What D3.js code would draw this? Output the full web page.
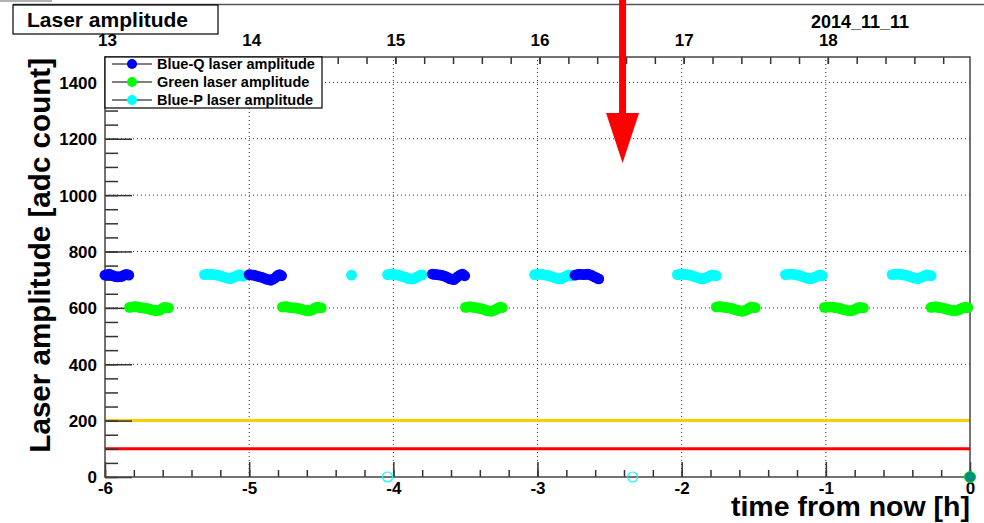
<!DOCTYPE html>
<html>
<head>
<meta charset="utf-8">
<script src="https://cdn.jsdelivr.net/npm/d3@7"></script>
<style>
  body { margin: 0; background: #fff; }
  text { font-family: "Liberation Sans", Arial, sans-serif; font-weight: bold; }
</style>
</head>
<body>
<script>
// time in hours from now, amplitude in adc counts
const blueQ = [
    [-6.00, 716], [-5.985, 718], [-5.97, 720], [-5.955, 716], [-5.94, 713], [-5.925, 711], [-5.91, 710], [-5.895, 711], [-5.88, 712], [-5.865, 717], [-5.85, 719], [-5.835, 716],
    [-5.00, 718], [-4.985, 717], [-4.97, 716], [-4.955, 714], [-4.94, 712], [-4.925, 710], [-4.91, 708], [-4.895, 705], [-4.88, 702], [-4.865, 700], [-4.85, 698], [-4.835, 702], [-4.82, 706], [-4.805, 714], [-4.79, 718], [-4.775, 714],
    [-3.73, 720], [-3.715, 719], [-3.70, 718], [-3.685, 717], [-3.67, 716], [-3.655, 714], [-3.64, 712], [-3.625, 708], [-3.61, 704], [-3.595, 702], [-3.58, 700], [-3.565, 706], [-3.55, 712], [-3.535, 717], [-3.52, 720], [-3.505, 714],
    [-2.74, 716], [-2.725, 718], [-2.71, 720], [-2.695, 719], [-2.68, 718], [-2.665, 719], [-2.65, 720], [-2.635, 717], [-2.62, 714], [-2.605, 710], [-2.59, 706], [-2.575, 703]
];

const green = [
    [-5.83, 602], [-5.815, 603], [-5.80, 604], [-5.785, 604], [-5.77, 603], [-5.755, 601], [-5.74, 600], [-5.725, 599], [-5.71, 598], [-5.695, 596], [-5.68, 594], [-5.665, 592], [-5.65, 590], [-5.635, 591], [-5.62, 592], [-5.605, 597], [-5.59, 602], [-5.575, 601], [-5.56, 600],
    [-4.77, 603], [-4.755, 604], [-4.74, 604], [-4.725, 602], [-4.71, 601], [-4.695, 600], [-4.68, 600], [-4.665, 598], [-4.65, 597], [-4.635, 595], [-4.62, 593], [-4.605, 591], [-4.59, 589], [-4.575, 591], [-4.56, 594], [-4.545, 599], [-4.53, 603], [-4.515, 601], [-4.50, 600],
    [-3.50, 602], [-3.485, 603], [-3.47, 604], [-3.455, 603], [-3.44, 602], [-3.425, 600], [-3.41, 599], [-3.395, 597], [-3.38, 596], [-3.365, 593], [-3.35, 590], [-3.335, 589], [-3.32, 588], [-3.305, 591], [-3.29, 594], [-3.275, 599], [-3.26, 603], [-3.245, 601],
    [-1.76, 603], [-1.745, 604], [-1.73, 604], [-1.715, 603], [-1.70, 602], [-1.685, 601], [-1.67, 600], [-1.655, 598], [-1.64, 596], [-1.625, 593], [-1.61, 591], [-1.595, 589], [-1.58, 588], [-1.565, 590], [-1.55, 593], [-1.535, 598], [-1.52, 603], [-1.505, 602], [-1.49, 601],
    [-1.01, 602], [-0.995, 603], [-0.98, 603], [-0.965, 603], [-0.95, 603], [-0.935, 601], [-0.92, 600], [-0.905, 598], [-0.89, 596], [-0.875, 594], [-0.86, 592], [-0.845, 590], [-0.83, 589], [-0.815, 591], [-0.80, 594], [-0.785, 598], [-0.77, 602], [-0.755, 601], [-0.74, 600],
    [-0.27, 602], [-0.255, 603], [-0.24, 604], [-0.225, 602], [-0.21, 601], [-0.195, 600], [-0.18, 598], [-0.165, 596], [-0.15, 594], [-0.135, 592], [-0.12, 590], [-0.105, 590], [-0.09, 591], [-0.075, 594], [-0.06, 598], [-0.045, 601], [-0.03, 603], [-0.015, 601]
];

const blueP = [
    [-5.31, 718], [-5.295, 719], [-5.28, 720], [-5.265, 719], [-5.25, 718], [-5.235, 717], [-5.22, 716], [-5.205, 714], [-5.19, 712], [-5.175, 709], [-5.16, 706], [-5.145, 705], [-5.13, 704], [-5.115, 707], [-5.10, 710], [-5.085, 714], [-5.07, 717], [-5.055, 714], [-5.04, 712],
    [-4.29, 716],
    [-4.04, 718], [-4.025, 719], [-4.01, 720], [-3.995, 718], [-3.98, 717], [-3.965, 716], [-3.95, 714], [-3.935, 711], [-3.92, 709], [-3.905, 706], [-3.89, 704], [-3.875, 703], [-3.86, 703], [-3.845, 707], [-3.83, 711], [-3.815, 715], [-3.80, 717],
    [-3.02, 718], [-3.005, 719], [-2.99, 720], [-2.975, 719], [-2.96, 718], [-2.945, 716], [-2.93, 715], [-2.915, 713], [-2.90, 711], [-2.885, 708], [-2.87, 705], [-2.855, 704], [-2.84, 703], [-2.825, 706], [-2.81, 710], [-2.795, 714], [-2.78, 717], [-2.765, 714],
    [-2.03, 718], [-2.015, 719], [-2.00, 720], [-1.985, 719], [-1.97, 718], [-1.955, 717], [-1.94, 716], [-1.925, 713], [-1.91, 711], [-1.895, 708], [-1.88, 705], [-1.865, 704], [-1.85, 703], [-1.835, 706], [-1.82, 709], [-1.805, 713], [-1.79, 717], [-1.775, 715], [-1.76, 714],
    [-1.28, 718], [-1.265, 719], [-1.25, 720], [-1.235, 720], [-1.22, 719], [-1.205, 717], [-1.19, 716], [-1.175, 713], [-1.16, 711], [-1.145, 708], [-1.13, 705], [-1.115, 704], [-1.10, 704], [-1.085, 707], [-1.07, 710], [-1.055, 714], [-1.04, 717], [-1.025, 714],
    [-0.54, 718], [-0.525, 719], [-0.51, 720], [-0.495, 720], [-0.48, 719], [-0.465, 717], [-0.45, 716], [-0.435, 714], [-0.42, 712], [-0.405, 709], [-0.39, 706], [-0.375, 705], [-0.36, 704], [-0.345, 707], [-0.33, 710], [-0.315, 714], [-0.30, 717], [-0.285, 715], [-0.27, 714]
];

const bluePZero = [[-4.04, 0], [-2.34, 0]];
const nowPoint = [[0, 0]];

const thresholds = [
    { value: 200, color: '#ffcc00' },
    { value: 100, color: '#ff0000' }
];

const xTicks = [-6, -5, -4, -3, -2, -1, 0];
const yTicks = [0, 200, 400, 600, 800, 1000, 1200, 1400];
const topHours = [13, 14, 15, 16, 17, 18];
const nowHour = 18.986;
const dateLabel = '2014_11_11';
const arrowTime = -2.41;

const legendItems = [
    { label: 'Blue-Q laser amplitude', color: '#0000ff' },
    { label: 'Green laser amplitude', color: '#00ff00' },
    { label: 'Blue-P laser amplitude', color: '#00ffff' }
];

const width = 984;
const height = 523;
const margin = { top: 57, right: 14, bottom: 46, left: 105 };
const radius = 5.4;

const svg = d3.select('body')
    .append('svg')
    .attr('width', width)
    .attr('height', height);

const x = d3.scaleLinear()
    .domain([-6, 0])
    .range([margin.left, width - margin.right]);

const y = d3.scaleLinear()
    .domain([0, 1490])
    .range([height - margin.bottom, margin.top]);

const x0 = x.range()[0], x1 = x.range()[1];
const y0 = y.range()[0], y1 = y.range()[1];

// canvas top edges
svg.append('line')
    .attr('x1', 0).attr('x2', 52).attr('y1', 1).attr('y2', 1)
    .attr('stroke', '#999').attr('stroke-width', 1.5);
svg.append('line')
    .attr('x1', 13).attr('x2', width).attr('y1', 4.5).attr('y2', 4.5)
    .attr('stroke', '#555').attr('stroke-width', 1.5);

// grid
const grid = svg.append('g')
    .attr('stroke', '#333')
    .attr('stroke-width', 1)
    .attr('stroke-dasharray', '1,3');

grid.selectAll('.vgrid')
    .data(xTicks.filter(d => d > -6 && d < 0))
    .join('line')
    .attr('x1', d => x(d)).attr('x2', d => x(d))
    .attr('y1', y0).attr('y2', y1);

grid.selectAll('.hgrid')
    .data(yTicks.filter(d => d > 0))
    .join('line')
    .attr('x1', x0).attr('x2', x1)
    .attr('y1', d => y(d)).attr('y2', d => y(d));

// threshold lines
svg.selectAll('.threshold')
    .data(thresholds)
    .join('line')
    .attr('x1', x0).attr('x2', x1)
    .attr('y1', d => y(d.value)).attr('y2', d => y(d.value))
    .attr('stroke', d => d.color)
    .attr('stroke-width', 3);

// axes
const xAxis = d3.axisBottom(x)
    .tickValues(xTicks)
    .tickSize(-15)
    .tickPadding(5)
    .tickFormat(d => String(d));

const xMinor = d3.axisBottom(x)
    .tickValues(d3.range(-6, 0.01, 0.2).map(d => +d.toFixed(1)))
    .tickSize(-7)
    .tickFormat('');

const yAxis = d3.axisLeft(y)
    .tickValues(yTicks)
    .tickSize(-27)
    .tickPadding(8)
    .tickFormat(d => String(d));

const yMinor = d3.axisLeft(y)
    .tickValues(d3.range(0, 1490, 50))
    .tickSize(-13)
    .tickFormat('');

const topScale = d3.scaleLinear()
    .domain([nowHour - 6, nowHour])
    .range(x.range());

const topAxis = d3.axisTop(topScale)
    .tickValues(topHours)
    .tickSize(-7)
    .tickPadding(11)
    .tickFormat(d => String(d));

const topMinor = d3.axisTop(topScale)
    .tickValues(d3.range(13, nowHour, 0.2).filter(d => d >= nowHour - 6))
    .tickSize(-7)
    .tickFormat('');

const styleAxis = (g, size) => {
    g.select('.domain').remove();
    g.selectAll('.tick line').attr('stroke', '#333').attr('stroke-width', 1.5);
    g.selectAll('.tick text')
        .attr('fill', '#000')
        .style('font-size', size + 'px');
};

svg.append('g')
    .attr('transform', `translate(0,${y0})`)
    .call(xMinor).call(g => styleAxis(g, 17));
svg.append('g')
    .attr('transform', `translate(0,${y0})`)
    .call(xAxis).call(g => styleAxis(g, 17));
svg.append('g')
    .attr('transform', `translate(${x0},0)`)
    .call(yMinor).call(g => styleAxis(g, 17));
svg.append('g')
    .attr('transform', `translate(${x0},0)`)
    .call(yAxis).call(g => styleAxis(g, 17))
    .selectAll('.tick text').attr('dy', '0.35em');
svg.append('g')
    .attr('transform', `translate(0,${y1})`)
    .call(topMinor).call(g => styleAxis(g, 17));
svg.append('g')
    .attr('transform', `translate(0,${y1})`)
    .call(topAxis).call(g => styleAxis(g, 17));

svg.append('text')
    .attr('x', 860)
    .attr('y', 28)
    .attr('text-anchor', 'middle')
    .style('font-size', '18px')
    .text(dateLabel);

// frame
svg.append('rect')
    .attr('x', x0).attr('y', y1)
    .attr('width', x1 - x0).attr('height', y0 - y1)
    .attr('fill', 'none')
    .attr('stroke', '#444')
    .attr('stroke-width', 1.5);

// data points
const drawSeries = (data, color) => {
    svg.append('g')
        .selectAll('circle')
        .data(data)
        .join('circle')
        .attr('cx', d => x(d[0]))
        .attr('cy', d => y(d[1]))
        .attr('r', radius)
        .attr('fill', color);
};

drawSeries(green, '#00ff00');
drawSeries(blueP, '#00ffff');
drawSeries(blueQ, '#0000ff');

svg.append('g')
    .selectAll('circle')
    .data(bluePZero)
    .join('circle')
    .attr('cx', d => x(d[0]))
    .attr('cy', d => y(d[1]))
    .attr('r', 5)
    .attr('fill', 'none')
    .attr('stroke', '#00ffff')
    .attr('stroke-width', 1.2);

svg.append('g')
    .selectAll('circle')
    .data(nowPoint)
    .join('circle')
    .attr('cx', d => x(d[0]))
    .attr('cy', d => y(d[1]))
    .attr('r', 5.5)
    .attr('fill', '#008b8b')
    .attr('stroke', '#00dd00')
    .attr('stroke-width', 1);

// legend
const legend = svg.append('g')
    .attr('transform', `translate(${x0},${y1})`);

legend.append('rect')
    .attr('width', 217)
    .attr('height', 51)
    .attr('fill', '#fff')
    .attr('stroke', '#000')
    .attr('stroke-width', 1.2);

const entry = legend.selectAll('.entry')
    .data(legendItems)
    .join('g')
    .attr('transform', (d, i) => `translate(0,${7 + i * 18})`);

entry.append('line')
    .attr('x1', 7).attr('x2', 47)
    .attr('stroke', '#000').attr('stroke-width', 1);

entry.append('circle')
    .attr('cx', 27)
    .attr('r', 5)
    .attr('fill', d => d.color);

entry.append('text')
    .attr('x', 52)
    .attr('dy', '0.35em')
    .style('font-size', '14.5px')
    .text(d => d.label);

// title box
svg.append('rect')
    .attr('x', 13).attr('y', 5)
    .attr('width', 205).attr('height', 29)
    .attr('fill', '#fff')
    .attr('stroke', '#000')
    .attr('stroke-width', 1.2);

svg.append('text')
    .attr('x', 27)
    .attr('y', 27)
    .style('font-size', '21px')
    .text('Laser amplitude');

// axis titles
svg.append('text')
    .attr('x', x1)
    .attr('y', 516)
    .attr('text-anchor', 'end')
    .style('font-size', '28.5px')
    .text('time from now [h]');

svg.append('text')
    .attr('transform', `translate(50,${y1 + 1}) rotate(-90)`)
    .attr('text-anchor', 'end')
    .style('font-size', '29.6px')
    .text('Laser amplitude [adc count]');

// red arrow marking a time
const ax = x(arrowTime);
svg.append('line')
    .attr('x1', ax).attr('x2', ax)
    .attr('y1', 0).attr('y2', 116)
    .attr('stroke', '#ff0000')
    .attr('stroke-width', 7);

svg.append('path')
    .attr('d', `M${ax - 16.5},113 L${ax + 16.5},113 L${ax},163 Z`)
    .attr('fill', '#ff0000');
</script>
</body>
</html>
